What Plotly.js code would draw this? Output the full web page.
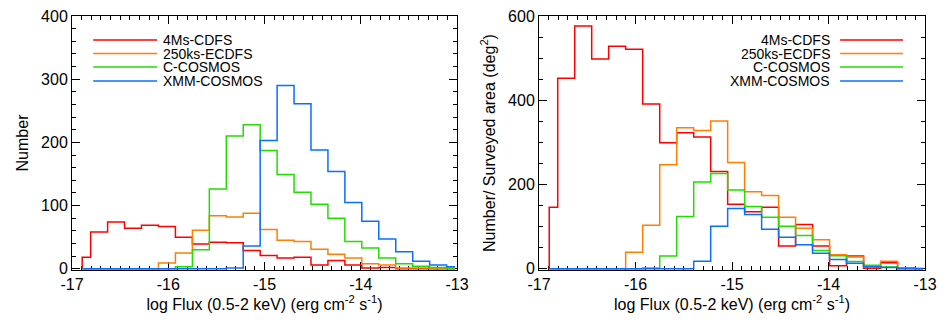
<!DOCTYPE html>
<html>
<head>
<meta charset="utf-8">
<script src="https://cdn.plot.ly/plotly-3.0.1.min.js"></script>
<style>
  body { margin: 0; background: #fff; }
  #plot { width: 947px; height: 322px; }
</style>
</head>
<body>
<div id="plot"></div>
<script>
// bin centres, log flux (bins of a factor 1.5 in flux)
var binCentres = [-16.894, -16.718, -16.542, -16.366, -16.190, -16.014, -15.837, -15.661,
  -15.485, -15.309, -15.133, -14.957, -14.781, -14.605, -14.429, -14.253,
  -14.077, -13.901, -13.725, -13.548, -13.372, -13.196, -13.020];

var surveys = ["4Ms-CDFS", "250ks-ECDFS", "C-COSMOS", "XMM-COSMOS"];
var colours = ["#ff0000", "#ff7f00", "#22dd00", "#0a6fff"];

// left panel: number of sources per bin
var numCDFS   = [18, 58, 74, 64, 69, 67, 50, 39, 42, 41, 29, 21, 17, 18, 6, 13, 6, 1, 2, 0, 0, 0, 0];
var numECDFS  = [0, 0, 0, 0, 0, 9, 25, 61, 84, 82, 88, 62, 45, 43, 31, 23, 17, 8, 6, 1, 1, 0, 0];
var numCCOS   = [0, 0, 0, 0, 0, 0, 3, 30, 126, 210, 228, 187, 149, 121, 102, 80, 43, 33, 17, 8, 4, 2, 1];
var numXMMCOS = [0, 0, 0, 0, 0, 0, 0, 0, 0, 1, 36, 203, 290, 261, 188, 154, 105, 75, 47, 27, 12, 6, 3];

// right panel: number / surveyed area (deg^2)
var densCDFS   = [146, 452, 576, 498, 528, 521, 391, 299, 323, 313, 231, 153, 135, 146, 54, 105, 54, 7, 30, 1, 14, 0, 0];
var densECDFS  = [0, 0, 0, 0, 0, 39, 103, 247, 335, 328, 351, 252, 183, 174, 122, 96, 69, 33, 28, 5, 18, 0, 0];
var densCCOS   = [0, 0, 0, 0, 0, 0, 2, 30, 124, 206, 226, 187, 148, 122, 101, 79, 43, 31, 17, 8, 4, 2, 1];
var densXMMCOS = [0, 0, 0, 0, 0, 0, 0, 0, 0, 18, 101, 143, 129, 94, 75, 57, 37, 22, 13, 5, 3, 1, 0];

var xTickVals = [-17, -16, -15, -14, -13];
var xTickText = ["-17", "-16", "-15", "-14", "-13"];

var leftSets = [numCDFS, numECDFS, numCCOS, numXMMCOS];
var rightSets = [densCDFS, densECDFS, densCCOS, densXMMCOS];

// histogram steps rise from zero at the first bin centre
function stepTrace(vals, i, xa, ya) {
  return {
    x: [binCentres[0]].concat(binCentres), y: [0].concat(vals), name: surveys[i],
    type: "scatter", mode: "lines", line: {shape: "hvh", color: colours[i], width: 1.5},
    xaxis: xa, yaxis: ya, showlegend: false
  };
}

var data = [];
for (var i = 0; i < surveys.length; i++) data.push(stepTrace(leftSets[i], i, "x", "y"));
for (var i = 0; i < surveys.length; i++) data.push(stepTrace(rightSets[i], i, "x2", "y2"));

var font = {family: "Liberation Sans, Arial, sans-serif", size: 16, color: "#000"};
var xTitle = "log Flux (0.5-2 keV) (erg cm<sup>-2</sup> s<sup>-1</sup>)";

function xAxis(domain, anchor) {
  return {
    domain: domain, anchor: anchor, range: [-17, -13],
    tickvals: xTickVals, ticktext: xTickText,
    ticks: "inside", ticklen: 8, tickwidth: 1, tickcolor: "#000",
    minor: {dtick: 0.1, tick0: -17, ticks: "inside", ticklen: 4, tickcolor: "#000"},
    showline: true, linecolor: "#000", linewidth: 1, mirror: "ticks",
    showgrid: false, zeroline: false, layer: "below traces",
    title: {text: xTitle, font: font, standoff: 4}
  };
}
function yAxis(range, dtick, minor, anchor, title) {
  return {
    domain: [0, 1], anchor: anchor, range: range, dtick: dtick, tick0: 0,
    ticks: "inside", ticklen: 8, tickwidth: 1, tickcolor: "#000",
    minor: {dtick: minor, tick0: 0, ticks: "inside", ticklen: 4, tickcolor: "#000"},
    showline: true, linecolor: "#000", linewidth: 1, mirror: "ticks",
    showgrid: false, zeroline: false, layer: "below traces",
    title: {text: title, font: font, standoff: 8}
  };
}

// hand-drawn legends: line then text on the left, text then line on the right
var legendRows = [0.906, 0.852, 0.799, 0.744];
var shapes = [];
var annotations = [];
for (var i = 0; i < surveys.length; i++) {
  shapes.push({type: "line", xref: "x domain", yref: "y domain",
    x0: 0.055, x1: 0.221, y0: legendRows[i], y1: legendRows[i],
    line: {color: colours[i], width: 1.5}});
  annotations.push({xref: "x domain", yref: "y domain", x: 0.232, y: legendRows[i],
    xanchor: "left", yanchor: "middle", showarrow: false, text: surveys[i],
    font: {family: font.family, size: 14, color: "#000"}});
  shapes.push({type: "line", xref: "x2 domain", yref: "y2 domain",
    x0: 0.780, x1: 0.943, y0: legendRows[i], y1: legendRows[i],
    line: {color: colours[i], width: 1.5}});
  annotations.push({xref: "x2 domain", yref: "y2 domain", x: 0.760, y: legendRows[i],
    xanchor: "right", yanchor: "middle", showarrow: false, text: surveys[i],
    font: {family: font.family, size: 14, color: "#000"}});
}

var layout = {
  width: 947, height: 322,
  margin: {l: 0, r: 0, t: 16, b: 52},
  paper_bgcolor: "#fff", plot_bgcolor: "#fff",
  font: font,
  showlegend: false,
  xaxis: xAxis([72 / 947, 457 / 947], "y"),
  yaxis: yAxis([-2, 400], 100, 20, "x", "Number"),
  xaxis2: xAxis([539 / 947, 925 / 947], "y2"),
  yaxis2: yAxis([-3, 600], 200, 50, "x2", "Number/ Surveyed area (deg<sup>2</sup>)"),
  shapes: shapes,
  annotations: annotations
};

Plotly.newPlot("plot", data, layout, {displayModeBar: false, staticPlot: true});
</script>
</body>
</html>
